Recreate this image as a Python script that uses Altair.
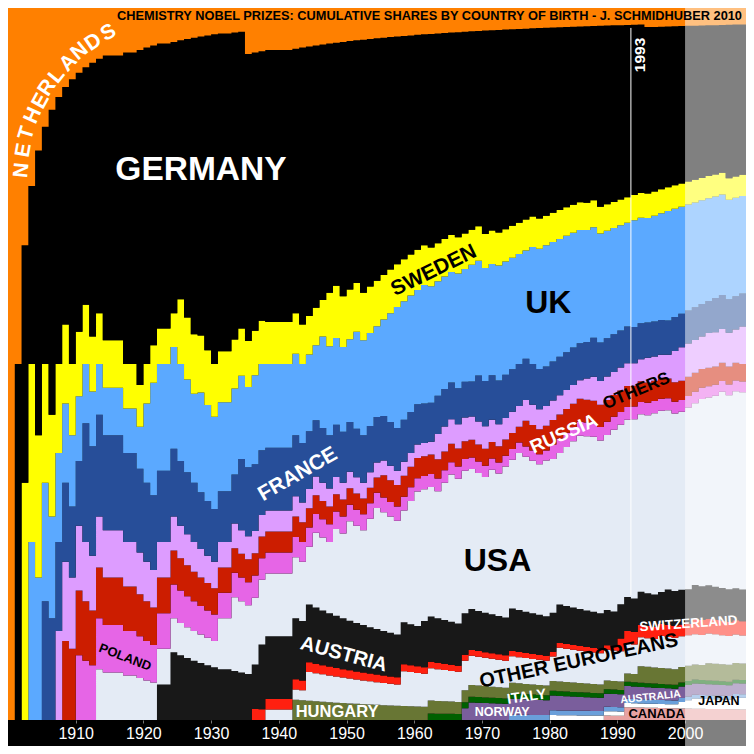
import altair as alt
import pandas as pd

# ---------------- data: chemistry laureates (year, country of birth group, prize share)
prize_year = [
    1901, 1902, 1903, 1904, 1905, 1906, 1907, 1908, 1909, 1910,
    1911, 1912, 1912, 1913, 1914, 1915, 1918, 1920, 1921, 1922,
    1923, 1925, 1926, 1927, 1928, 1929, 1929, 1930, 1931, 1931,
    1932, 1934, 1935, 1935, 1936, 1937, 1937, 1938, 1939, 1939,
    1943, 1944, 1945, 1946, 1946, 1946, 1947, 1948, 1949, 1950,
    1950, 1951, 1951, 1952, 1952, 1953, 1954, 1955, 1956, 1956,
    1957, 1958, 1959, 1960, 1961, 1962, 1962, 1963, 1963, 1964,
    1965, 1966, 1967, 1967, 1967, 1968, 1969, 1969, 1970, 1971,
    1972, 1972, 1972, 1973, 1973, 1974, 1975, 1975, 1976, 1977,
    1978, 1979, 1979, 1980, 1980, 1980, 1981, 1981, 1982, 1983,
    1984, 1985, 1985, 1986, 1986, 1986, 1987, 1987, 1987, 1988,
    1988, 1988, 1989, 1989, 1990, 1991, 1992, 1993, 1993, 1994,
    1995, 1995, 1995, 1996, 1996, 1996, 1997, 1997, 1997, 1998,
    1998, 1999, 2000, 2000, 2000, 2001, 2001, 2001, 2002, 2002,
    2002, 2003, 2003, 2004, 2004, 2004, 2005, 2005, 2005, 2006,
    2007, 2008, 2008, 2008, 2009, 2009, 2009,
]
prize_country = [
    "NL", "DE", "SE", "UK", "DE", "FR", "DE", "OTH", "RU", "DE",
    "PL", "FR", "FR", "DE", "US", "DE", "DE", "DE", "UK", "UK",
    "AT", "AT", "SE", "DE", "DE", "UK", "DE", "DE", "DE", "DE",
    "US", "US", "FR", "FR", "NL", "UK", "CH", "AT", "DE", "OEU",
    "HU", "DE", "OEU", "US", "US", "US", "UK", "SE", "US", "DE",
    "DE", "US", "US", "UK", "UK", "DE", "US", "US", "UK", "RU",
    "UK", "UK", "OEU", "US", "US", "AT", "UK", "DE", "IT", "OTH",
    "US", "US", "DE", "UK", "UK", "NO", "UK", "NO", "FR", "DE",
    "US", "US", "US", "DE", "UK", "US", "AU", "AT", "US", "RU",
    "UK", "UK", "DE", "US", "US", "UK", "JP", "PL", "OEU", "US",
    "US", "US", "US", "US", "OTH", "DE", "US", "FR", "OTH", "DE",
    "DE", "DE", "CA", "US", "US", "CH", "CA", "US", "UK", "HU",
    "NL", "OTH", "US", "US", "UK", "US", "US", "UK", "OEU", "AT",
    "UK", "OTH", "US", "OTH", "JP", "US", "JP", "US", "US", "JP",
    "CH", "US", "US", "OTH", "HU", "US", "FR", "US", "US", "US",
    "DE", "JP", "US", "US", "OTH", "US", "OTH",
]
prize_share = [
    1, 1, 1, 1, 1, 1, 1, 1, 1, 1,
    1, 1/2, 1/2, 1, 1, 1, 1, 1, 1, 1,
    1, 1, 1, 1, 1, 1/2, 1/2, 1, 1/2, 1/2,
    1, 1, 1/2, 1/2, 1, 1/2, 1/2, 1, 1/2, 1/2,
    1, 1, 1, 1/2, 1/4, 1/4, 1, 1, 1, 1/2,
    1/2, 1/2, 1/2, 1/2, 1/2, 1, 1, 1, 1/2, 1/2,
    1, 1, 1, 1, 1, 1/2, 1/2, 1/2, 1/2, 1,
    1, 1, 1/2, 1/4, 1/4, 1, 1/2, 1/2, 1, 1,
    1/2, 1/4, 1/4, 1/2, 1/2, 1, 1/2, 1/2, 1, 1,
    1, 1/2, 1/2, 1/2, 1/4, 1/4, 1/2, 1/2, 1, 1,
    1, 1/2, 1/2, 1/3, 1/3, 1/3, 1/3, 1/3, 1/3, 1/3,
    1/3, 1/3, 1/2, 1/2, 1, 1, 1, 1/2, 1/2, 1,
    1/3, 1/3, 1/3, 1/3, 1/3, 1/3, 1/4, 1/4, 1/2, 1/2,
    1/2, 1, 1/3, 1/3, 1/3, 1/4, 1/4, 1/2, 1/4, 1/4,
    1/2, 1/2, 1/2, 1/3, 1/3, 1/3, 1/3, 1/3, 1/3, 1,
    1, 1/3, 1/3, 1/3, 1/3, 1/3, 1/3,
]

# stacking order, bottom to top
groups = ["CA", "JP", "AU", "NO", "IT", "HU", "OEU", "CH", "AT", "US",
          "PL", "RU", "OTH", "FR", "UK", "SE", "DE", "NL"]
group_colors = ["#E8A2A2", "#FFFFFF", "#6A9FDA", "#7A5E9C", "#006000", "#687634",
                "#E4EBF5", "#FF2010", "#181818", "#E4EBF5", "#E665E6", "#CC1D00",
                "#DD9CFF", "#274E99", "#5BA9FF", "#FFFF00", "#000000", "#FF8000"]
years = list(range(1901, 2010))
tick_years = list(range(1910, 2001, 10))

# ---------------- cumulative shares, stacked
prizes = pd.DataFrame({"year": prize_year, "g": prize_country, "s": prize_share})
tab = prizes.pivot_table(index="year", columns="g", values="s", aggfunc="sum")
tab = tab.reindex(index=years, columns=groups).fillna(0.0)
cum = tab.cumsum()
frac = cum.div(cum.sum(axis=1), axis=0)
top = frac.cumsum(axis=1)
bot = top - frac

rows = []
for g in groups:
    first = cum.index[cum[g] > 0][0]
    for y in years:
        if y < first:
            continue
        rows.append({"g": g, "x": y - 1, "y0": bot.at[y, g], "y1": top.at[y, g]})
    rows.append({"g": g, "x": 2009, "y0": bot.at[2009, g], "y1": top.at[2009, g]})
area_df = pd.DataFrame(rows)

W, H, AX = 738, 712, 26
xs = alt.Scale(domain=[1900, 2009], nice=False, zero=False)
ys = alt.Scale(domain=[0, 1], nice=False, zero=False)
x_axis = alt.Axis(values=tick_years, format="d", labelColor="white",
                  labelFontSize=16, labelFont="Liberation Sans",
                  labelPadding=2, tickColor="#777777", tickSize=3,
                  domain=False, grid=False, title=None, labelFlush=False)

areas = alt.Chart(area_df).mark_area(interpolate="step-after").encode(
    x=alt.X("x:Q", scale=xs, axis=x_axis),
    y=alt.Y("y0:Q", scale=ys, axis=None),
    y2="y1:Q",
    color=alt.Color("g:N", scale=alt.Scale(domain=groups, range=group_colors), legend=None),
)

# ---------------- labels (positions in data units: year, cumulative share)
lab_text = ["GERMANY", "SWEDEN", "UK", "FRANCE", "RUSSIA", "OTHERS", "USA", "POLAND",
            "AUSTRIA", "OTHER EUROPEANS", "SWITZERLAND", "HUNGARY", "ITALY", "NORWAY",
            "AUSTRALIA", "JAPAN", "CANADA", "1993"]
lab_x = [1928.5, 1962.9, 1979.8, 1942.8, 1982.1, 1992.8, 1972.3, 1917.3,
         1949.6, 1984.3, 2000.5, 1948.6, 1976.6, 1973.0, 1994.9, 2005.0, 1995.8, 1993.3]
lab_y = [0.773, 0.631, 0.585, 0.345, 0.402, 0.462, 0.223, 0.088,
         0.092, 0.083, 0.135, 0.011, 0.032, 0.011, 0.032, 0.027, 0.009, 0.934]
lab_angle = [0, 334, 0, 330, 336, 337, 0, 21, 15, 348, 356, 0, 352, 0, 354, 0, 0, 270]
lab_size = [33.5, 21, 32, 21, 19, 17, 32, 13, 20, 20, 13.5, 16.5, 14.5, 12.5, 10.5, 12.5, 13, 15.5]
lab_color = ["white", "black", "black", "white", "white", "black", "black", "black",
             "white", "black", "white", "white", "white", "white", "white", "black",
             "black", "white"]

nl_letters = list("NETHERLANDS")
nl_x = [1902.05, 1902.35, 1902.80, 1903.70, 1904.85, 1905.80, 1907.23, 1908.92,
        1910.60, 1912.62, 1914.85]
nl_y = [0.772, 0.800, 0.824, 0.849, 0.869, 0.888, 0.905, 0.923, 0.939, 0.952, 0.965]
nl_angle = [276, 280, 287, 294, 299, 304, 309, 314, 320, 326, 331]

lab_df = pd.DataFrame({"t": lab_text + nl_letters, "x": lab_x + nl_x, "y": lab_y + nl_y,
                       "a": lab_angle + nl_angle,
                       "s": lab_size + [21] * len(nl_letters),
                       "c": lab_color + ["white"] * len(nl_letters)})

labels = alt.Chart(lab_df).mark_text(font="Liberation Sans", fontWeight="bold",
                                     align="center", baseline="middle").encode(
    x=alt.X("x:Q", scale=xs, axis=x_axis),
    y=alt.Y("y:Q", scale=ys, axis=None),
    text="t:N",
    angle=alt.Angle("a:Q", scale=None),
    size=alt.Size("s:Q", scale=None),
    color=alt.Color("c:N", scale=None),
)

marker_df = pd.DataFrame({"x": [1992], "y0": [0.175], "y1": [0.972]})
marker = alt.Chart(marker_df).mark_rule(color="white", strokeWidth=1).encode(
    x=alt.X("x:Q", scale=xs, axis=x_axis),
    y=alt.Y("y0:Q", scale=ys, axis=None),
    y2="y1:Q",
)

shade_df = pd.DataFrame({"x": [2000], "x1": [2009]})
shade = alt.Chart(shade_df).mark_rect(color="white", opacity=0.5).encode(
    x=alt.X("x:Q", scale=xs, axis=x_axis),
    x2="x1:Q",
    y=alt.value(0),
    y2=alt.value(H + AX),
)

title_df = pd.DataFrame({"t": ["CHEMISTRY NOBEL PRIZES: CUMULATIVE SHARES BY COUNTRY OF BIRTH - J. SCHMIDHUBER 2010"]})
title = alt.Chart(title_df).mark_text(font="Liberation Sans", fontWeight="bold", fontSize=12.8,
                                      align="right", baseline="middle", color="black").encode(
    x=alt.value(W - 4), y=alt.value(8), text="t:N")

chart = alt.layer(areas, shade, marker, labels, title).properties(
    width=W, height=H,
    padding={"left": 0, "right": 0, "top": 0, "bottom": AX},
    autosize=alt.AutoSizeParams(type="none"),
    background="black",
).configure_view(strokeWidth=0)

chart.save("out.html", embed_options={"renderer": "svg", "actions": False})
